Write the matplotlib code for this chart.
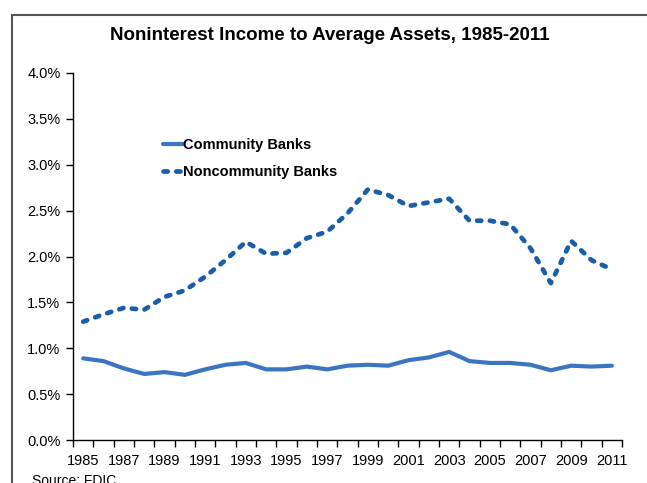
import numpy as np
import matplotlib
matplotlib.use('Agg')
import matplotlib.pyplot as plt
from matplotlib.patches import Rectangle
from matplotlib.ticker import FuncFormatter

plt.rcParams['font.family'] = ['Liberation Sans', 'DejaVu Sans']

years = list(range(1985, 2012))
community = [0.89, 0.86, 0.78, 0.72, 0.74, 0.71, 0.77, 0.82, 0.84, 0.77, 0.77, 0.80, 0.77,
             0.81, 0.82, 0.81, 0.87, 0.90, 0.96, 0.86, 0.84, 0.84, 0.82, 0.76, 0.81, 0.80, 0.81]
noncommunity = [1.29, 1.37, 1.44, 1.42, 1.56, 1.63, 1.78, 1.96, 2.16, 2.03, 2.04, 2.20, 2.27,
                2.47, 2.73, 2.67, 2.55, 2.59, 2.63, 2.39, 2.39, 2.35, 2.09, 1.71, 2.17, 1.96, 1.86]
year_labels = [str(y) for y in years[::2]]

fig = plt.figure(figsize=(6.47, 4.83), dpi=100)
ax = fig.add_axes([73/647, 1-440/483, (622-73)/647, (440-73)/483])

x = np.arange(len(years))
ax.plot(x, community, color='#3B75C2', lw=3.0, solid_capstyle='round', label='Community Banks')
ax.plot(x, noncommunity, color='#1A5EAB', lw=3.4, linestyle=(0, (0.9, 1.8)),
        dash_capstyle='round', label='Noncommunity Banks')

ax.set_xlim(-0.5, len(years) - 0.5)
ax.set_ylim(0, 4.0)
ax.set_yticks(np.arange(0, 4.01, 0.5))
ax.yaxis.set_major_formatter(FuncFormatter(lambda v, p: f'{v:.1f}%'))
ax.set_xticks(x[::2])
ax.set_xticklabels(year_labels)
ax.set_xticks(np.arange(-0.5, len(years), 1.0), minor=True)
ax.tick_params(axis='x', which='major', length=0, labelsize=10.5, pad=10)
ax.tick_params(axis='x', which='minor', length=5, width=1, direction='out')
ax.tick_params(axis='y', length=5, width=1, direction='out', labelsize=10.5, pad=4)

for s in ['top', 'right']:
    ax.spines[s].set_visible(False)
for s in ['left', 'bottom']:
    ax.spines[s].set_linewidth(1.0)

leg = ax.legend(loc='upper left', bbox_to_anchor=(0.145, 0.85), frameon=False,
                handlelength=1.35, handletextpad=0.05, labelspacing=0.85,
                borderpad=0.2, prop={'weight': 'bold', 'size': 10.5})

fig.text(0.51, 1 - 36/483, 'Noninterest Income to Average Assets, 1985-2011',
         ha='center', va='center', fontsize=13.5, fontweight='bold')
fig.text(32/647, 1 - 481/483, 'Source: FDIC', ha='left', va='center', fontsize=10)

fig.patches.append(Rectangle((12/647, -0.1), 1.2, (1 - 15/483) + 0.1,
                             transform=fig.transFigure, fill=False,
                             edgecolor='#555555', lw=1.5, zorder=0))

fig.savefig('out.png', dpi=100)
